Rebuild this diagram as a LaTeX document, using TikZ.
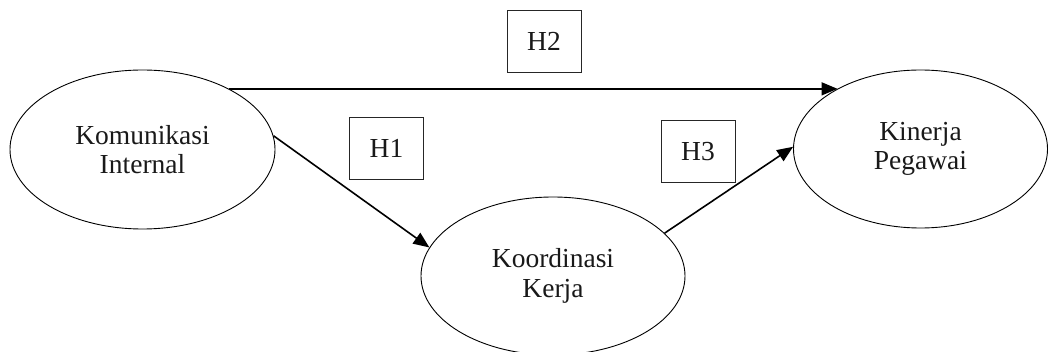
\documentclass[tikz,border=0pt]{standalone}
\usepackage{fontspec}
\setmainfont{Liberation Serif}
\usetikzlibrary{shapes.geometric,arrows.meta}
\begin{document}
\begin{tikzpicture}[x=1pt,y=-1pt,
  var/.style={ellipse,draw=black,line width=0.9pt,inner sep=0pt,align=center,
    font=\fontsize{27.5}{29.5}\selectfont,text=black!90},
  hyp/.style={rectangle,draw=black!85,line width=0.9pt,minimum width=74pt,minimum height=62pt,
    inner sep=0pt,font=\fontsize{27.5}{29.5}\selectfont,text=black!90},
  link/.style={line width=1.6pt,-{Triangle[length=16pt,width=13pt]}}]
\useasboundingbox (0,0) rectangle (1048,352);
\node[var,minimum width=265pt,minimum height=159pt] (e1) at (142.5,149.5) {Komunikasi\\Internal};
\node[var,minimum width=264pt,minimum height=158pt] (e2) at (553,276) {Koordinasi\\Kerja};
\node[var,minimum width=254pt,minimum height=158pt] (e3) at (920.5,149) {Kinerja\\Pegawai};
\node[hyp] (h2) at (544,41) {H2};
\node[hyp] (h1) at (386.5,148) {H1};
\node[hyp] (h3) at (698,151.5) {H3};
\draw[link] (e1.35) -- (e1.35 -| e3.144);
\draw[link] (e1.6) -- (e2.167);
\draw[link] (e2.21) -- (e3.179);
\end{tikzpicture}
\end{document}
